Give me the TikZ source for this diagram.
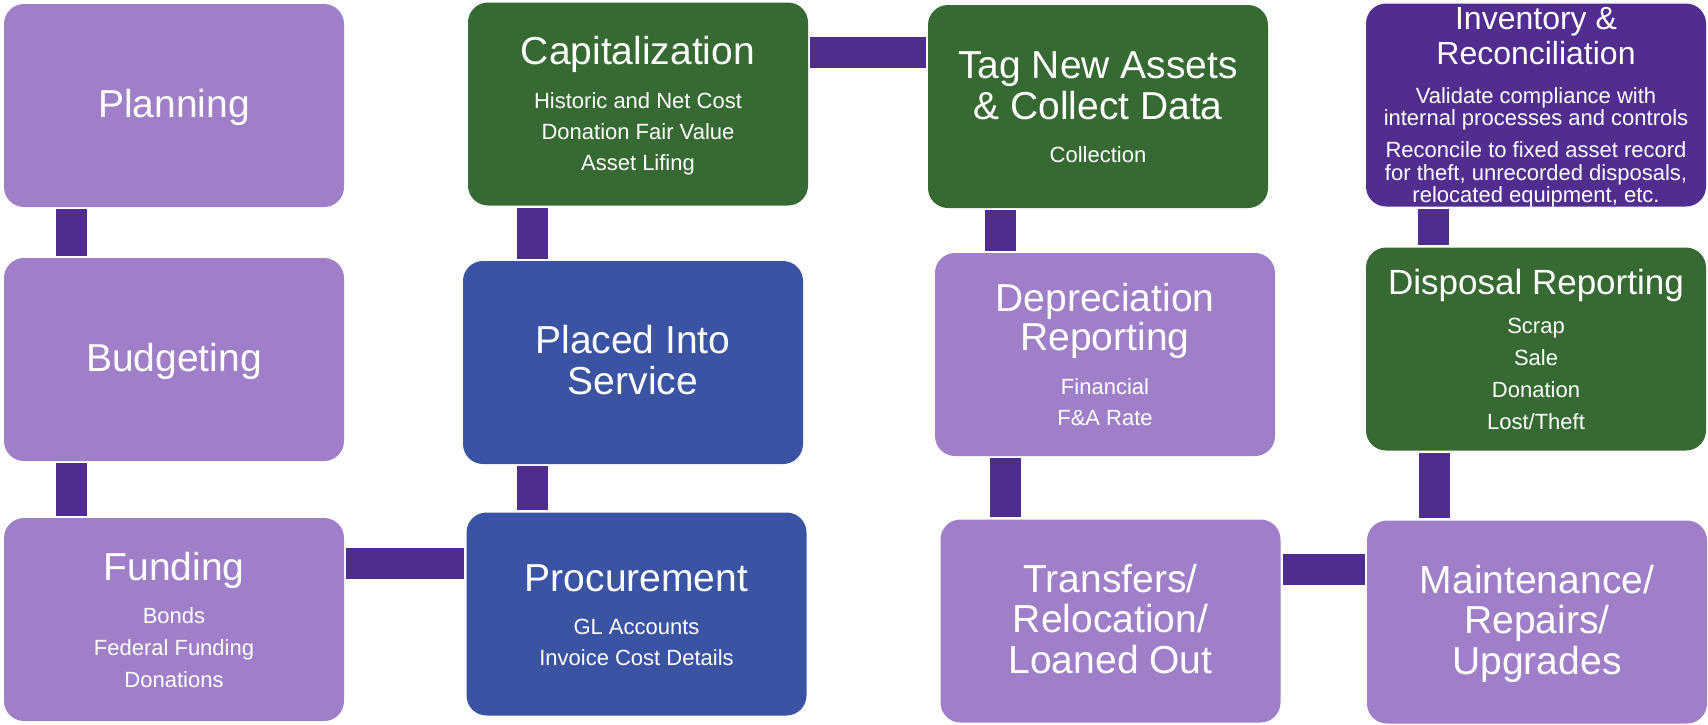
\documentclass[tikz,border=0pt]{standalone}
\usepackage{fontspec}
\setmainfont{Liberation Sans}
\definecolor{lav}{RGB}{159,128,200}
\definecolor{linkc}{RGB}{79,45,143}
\definecolor{leaf}{RGB}{54,106,50}
\definecolor{navy}{RGB}{58,83,163}
\definecolor{grape}{RGB}{80,45,143}
\begin{document}
\begin{tikzpicture}[x=1pt,y=-1pt,
  stage/.style={rectangle, rounded corners=20pt, minimum width=340pt,
    minimum height=203pt, inner sep=0pt},
  link/.style={draw=linkc, line width=31pt, shorten <=2pt, shorten >=2pt},
  hd/.style={text=white, inner sep=0pt, anchor=base, font=\fontsize{39}{41}\selectfont},
  hdm/.style={hd, font=\fontsize{35}{37}\selectfont},
  hds/.style={hd, font=\fontsize{32}{34}\selectfont},
  sub/.style={text=white, inner sep=0pt, anchor=base, font=\fontsize{22}{24}\selectfont}]
\useasboundingbox (0,0) rectangle (1708,724);

% stage boxes
\node[stage, fill=lav]   (plan)   at (174,105.5)  {};
\node[stage, fill=lav]   (bud)    at (174,359.5)  {};
\node[stage, fill=lav]   (fund)   at (174,619.5)  {};
\node[stage, fill=leaf]  (cap)    at (638,104)    {};
\node[stage, fill=navy]  (placed) at (633,362.5)  {};
\node[stage, fill=navy]  (proc)   at (636.5,614)  {};
\node[stage, fill=leaf]  (tag)    at (1098,106.5) {};
\node[stage, fill=lav]   (dep)    at (1105,354.5) {};
\node[stage, fill=lav]   (trans)  at (1110.5,621) {};
\node[stage, fill=grape] (inv)    at (1536,105)   {};
\node[stage, fill=leaf]  (disp)   at (1536,349)   {};
\node[stage, fill=lav]   (maint)  at (1537,622)   {};

% connectors
\draw[link] ([xshift=68pt]plan.south west) -- ([xshift=68pt]plan.south west |- bud.north);
\draw[link] ([xshift=68pt]bud.south west) -- ([xshift=68pt]bud.south west |- fund.north);
\draw[link] ([yshift=-45.5pt]fund.north east) -- ([yshift=-45.5pt]fund.north east -| proc.west);
\draw[link] ([xshift=70pt]placed.south west) -- ([xshift=70pt]placed.south west |- proc.north);
\draw[link] ([xshift=70pt]placed.north west) -- ([xshift=70pt]placed.north west |- cap.south);
\draw[link] ([yshift=-50.5pt]cap.north east) -- ([yshift=-50.5pt]cap.north east -| tag.west);
\draw[link] ([xshift=72.5pt]tag.south west) -- ([xshift=72.5pt]tag.south west |- dep.north);
\draw[link] ([xshift=70.5pt]dep.south west) -- ([xshift=70.5pt]dep.south west |- trans.north);
\draw[link] ([yshift=-50.5pt]trans.north east) -- ([yshift=-50.5pt]trans.north east -| maint.west);
\draw[link] ([xshift=68.5pt]disp.south west) -- ([xshift=68.5pt]disp.south west |- maint.north);
\draw[link] ([xshift=67.5pt]disp.north west) -- ([xshift=67.5pt]disp.north west |- inv.south);

% texts
\node[hd] (planT) at (174,117) {Planning};
\node[hd] (budT) at (174,371) {Budgeting};

\node[hd]  (fundT) at (174,580) {Funding};
\node[sub] (fund1) at (174,623) {Bonds};
\node[sub] (fund2) at (174,655) {Federal Funding};
\node[sub] (fund3) at (174,687) {Donations};

\node[hd]  (capT) at (638,64) {Capitalization};
\node[sub] (cap1) at (638,108) {Historic and Net Cost};
\node[sub] (cap2) at (638,139) {Donation Fair Value};
\node[sub] (cap3) at (638,170) {Asset Lifing};

\node[hd] (placedT1) at (633,353) {Placed Into};
\node[hd] (placedT2) at (633,394) {Service};

\node[hd]  (procT) at (636.5,591) {Procurement};
\node[sub] (proc1) at (636.5,634) {GL Accounts};
\node[sub] (proc2) at (636.5,665) {Invoice Cost Details};

\node[hd]  (tagT1) at (1098,78) {Tag New Assets};
\node[hd]  (tagT2) at (1098,119) {\& Collect Data};
\node[sub] (tag1) at (1098,162) {Collection};

\node[hd]  (depT1) at (1105,311) {Depreciation};
\node[hd]  (depT2) at (1105,350) {Reporting};
\node[sub] (dep1) at (1105,394) {Financial};
\node[sub] (dep2) at (1105,425) {F\&A Rate};

\node[hd] (transT1) at (1110.5,592) {Transfers/};
\node[hd] (transT2) at (1110.5,632) {Relocation/};
\node[hd] (transT3) at (1110.5,673) {Loaned Out};

\node[hds] (invT1) at (1536,29) {Inventory \&};
\node[hds] (invT2) at (1536,64) {Reconciliation};
\node[sub] (inv1) at (1536,103) {Validate compliance with};
\node[sub] (inv2) at (1536,125) {internal processes and controls};
\node[sub] (inv3) at (1536,157) {Reconcile to fixed asset record};
\node[sub] (inv4) at (1536,180) {for theft, unrecorded disposals,};
\node[sub] (inv5) at (1536,202) {relocated equipment, etc.};

\node[hdm] (dispT) at (1536,294) {Disposal Reporting};
\node[sub] (disp1) at (1536,333) {Scrap};
\node[sub] (disp2) at (1536,365) {Sale};
\node[sub] (disp3) at (1536,397) {Donation};
\node[sub] (disp4) at (1536,429) {Lost/Theft};

\node[hd] (maintT1) at (1537,593) {Maintenance/};
\node[hd] (maintT2) at (1537,633) {Repairs/};
\node[hd] (maintT3) at (1537,674) {Upgrades};
\end{tikzpicture}
\end{document}
